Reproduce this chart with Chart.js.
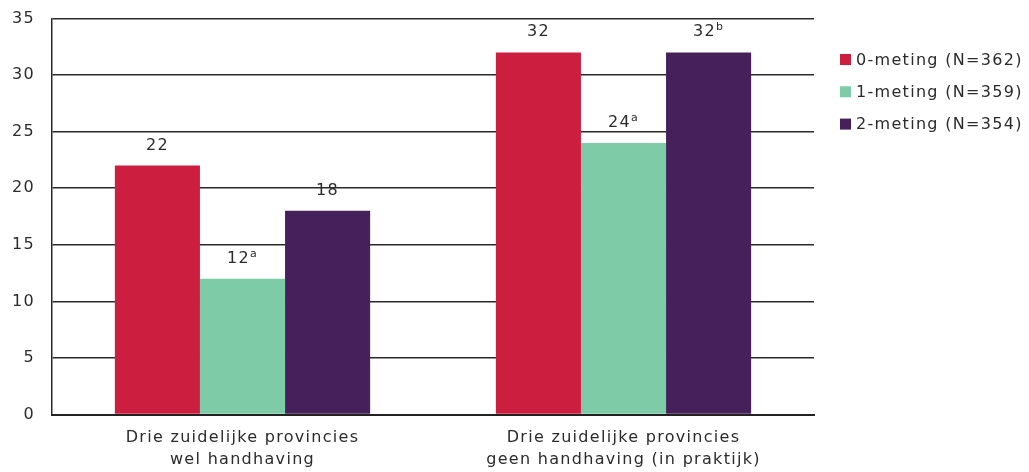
<!DOCTYPE html>
<html><head><meta charset="utf-8">
<script src="https://cdn.jsdelivr.net/npm/chart.js@4/dist/chart.umd.min.js"></script>
<style>html,body{margin:0;padding:0;background:#fff}#wrap{width:1029px;height:472px}</style>
</head><body><div id="wrap"><canvas id="c" width="1029" height="472"></canvas></div>
<script>
const categories = [
  ['Drie zuidelijke provincies', 'wel handhaving'],
  ['Drie zuidelijke provincies', 'geen handhaving (in praktijk)']
];
const seriesNames = ['0-meting (N=362)', '1-meting (N=359)', '2-meting (N=354)'];
const meting0 = [22, 32];
const meting1 = [12, 24];
const meting2 = [18, 32];
const sup0 = ['', ''];
const sup1 = ['a', 'a'];
const sup2 = ['', 'b'];
const yTicks = [0, 5, 10, 15, 20, 25, 30, 35];
const seriesColors = ['#CC1F40', '#7ECBA8', '#46205A'];

const FONT = '"DejaVu Sans", Verdana, sans-serif';
const TEXT = '#2b2b2b';
const SPACING = '1.3px';

const spacingPlugin = {
  id: 'spacing',
  beforeInit(c) { c.ctx.letterSpacing = SPACING; },
  beforeUpdate(c) { c.ctx.letterSpacing = SPACING; },
  beforeLayout(c) { c.ctx.letterSpacing = SPACING; },
  beforeDraw(c) { c.ctx.letterSpacing = SPACING; }
};

const sups = [sup0, sup1, sup2];
const valueLabels = {
  id: 'valueLabels',
  afterDatasetsDraw(chart) {
    const ctx = chart.ctx;
    ctx.save();
    ctx.letterSpacing = SPACING;
    ctx.fillStyle = TEXT;
    ctx.textBaseline = 'alphabetic';
    ctx.textAlign = 'left';
    chart.data.datasets.forEach((ds, i) => {
      const meta = chart.getDatasetMeta(i);
      meta.data.forEach((el, j) => {
        const main = String(ds.data[j]);
        const sp = sups[i][j];
        ctx.font = '16px ' + FONT;
        const wm = ctx.measureText(main).width;
        ctx.font = '11px ' + FONT;
        const ws = sp ? ctx.measureText(sp).width : 0;
        const x0 = el.x - (wm + ws) / 2;
        const yb = el.y - 16;
        ctx.font = '16px ' + FONT;
        ctx.fillText(main, x0, yb);
        if (sp) {
          ctx.font = '11px ' + FONT;
          ctx.fillText(sp, x0 + wm, yb - 6);
        }
      });
    });
    ctx.restore();
  }
};

const customLegend = {
  id: 'customLegend',
  afterDraw(chart) {
    const ctx = chart.ctx;
    const x = chart.chartArea.right + 26;
    ctx.save();
    ctx.letterSpacing = SPACING;
    ctx.font = '16px ' + FONT;
    ctx.textBaseline = 'middle';
    ctx.textAlign = 'left';
    chart.data.datasets.forEach((ds, i) => {
      const cy = 59.5 + i * 32.3;
      ctx.fillStyle = ds.backgroundColor;
      ctx.fillRect(x, cy - 5.5, 11, 11);
      ctx.fillStyle = TEXT;
      ctx.fillText(ds.label, x + 16, cy + 1);
    });
    ctx.restore();
  }
};

const datasets = [meting0, meting1, meting2].map((d, i) => ({
  label: seriesNames[i],
  data: d,
  backgroundColor: seriesColors[i],
  borderWidth: 0,
  categoryPercentage: 0.67,
  barPercentage: 1.0
}));

new Chart(document.getElementById('c'), {
  type: 'bar',
  data: { labels: categories, datasets },
  plugins: [spacingPlugin, valueLabels, customLegend],
  options: {
    responsive: false,
    devicePixelRatio: 1,
    animation: false,
    layout: { padding: { top: 18.5, right: 215, left: 0, bottom: 0 } },
    plugins: { legend: { display: false }, tooltip: { enabled: false } },
    scales: {
      x: {
        grid: { display: false, drawTicks: false },
        border: { display: true, color: '#222222', width: 2 },
        ticks: { color: TEXT, font: { family: FONT, size: 16, lineHeight: 1.375 }, padding: 12, maxRotation: 0, autoSkip: false },
        afterFit(s) { s.height = 57.5; s.paddingLeft = 0; s.paddingRight = 0; }
      },
      y: {
        min: 0, max: 35,
        afterBuildTicks(s) { s.ticks = yTicks.map(v => ({ value: v })); },
        grid: { color: '#2a2a2a', lineWidth: 1.5, drawTicks: false },
        border: { display: true, color: '#2a2a2a', width: 1.5 },
        ticks: { color: TEXT, font: { family: FONT, size: 16 }, padding: 17 },
        afterFit(s) { s.width = 52; s.paddingTop = 0; s.paddingBottom = 0; }
      }
    }
  }
});
</script>
</body></html>
